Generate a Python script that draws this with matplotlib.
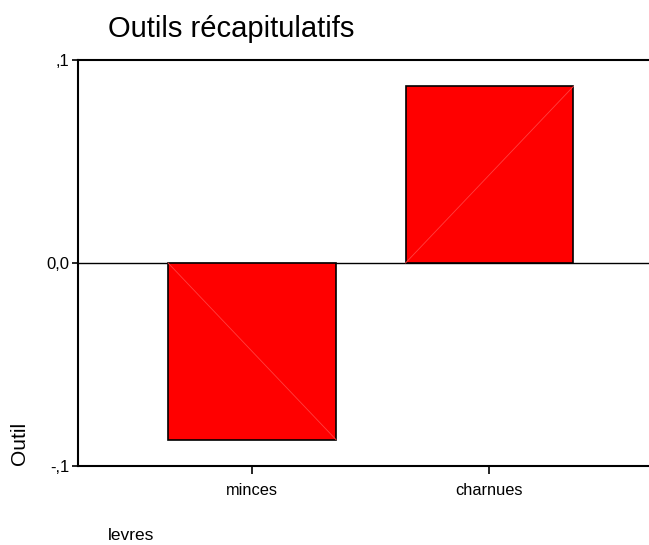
import matplotlib.pyplot as plt

categories = ["minces", "charnues"]
values = [-0.087, 0.087]
ytick_vals = [-0.1, 0.0, 0.1]
ytick_labels = ["-,1", "0,0", ",1"]

plt.rcParams['font.family'] = ['Liberation Sans', 'DejaVu Sans']

fig = plt.figure(figsize=(6.49, 5.45), dpi=100)
ax = fig.add_axes([78 / 649, 1 - 466 / 545, (663.5 - 78) / 649, (466 - 60) / 545])

x = list(range(len(categories)))
width = 0.707
bars = ax.bar(x, values, width=width, color='#ff0000', edgecolor='black', linewidth=1.2, zorder=3)

# faint diagonal inside each bar
for xi, v in zip(x, values):
    ax.plot([xi - width / 2, xi + width / 2], [0, v], color='#ff4040', lw=0.6, zorder=4)

ax.axhline(0, color='black', lw=1.0, zorder=2)

ax.set_xlim(-0.733, 1.733)
ax.set_ylim(-0.1, 0.1)
ax.set_yticks(ytick_vals)
ax.set_yticklabels(ytick_labels, fontsize=12)
ax.set_xticks(x)
ax.set_xticklabels(categories, fontsize=11.8)
ax.tick_params(axis='x', direction='out', length=6, width=1.2, pad=6)
ax.tick_params(axis='y', direction='out', length=4, width=1.2, pad=2)

for side in ['left', 'top', 'bottom']:
    ax.spines[side].set_linewidth(1.5)
ax.spines['right'].set_visible(False)

fig.text(108 / 649, 1 - 29 / 545, "Outils récapitulatifs", fontsize=21, ha='left', va='center')
fig.text(108 / 649, 1 - 536 / 545, "levres", fontsize=12.5, ha='left', va='center')
fig.text(20 / 649, 1 - 443 / 545, "Outil", fontsize=15, rotation=90, ha='center', va='center')

fig.savefig('out.png', dpi=100)
